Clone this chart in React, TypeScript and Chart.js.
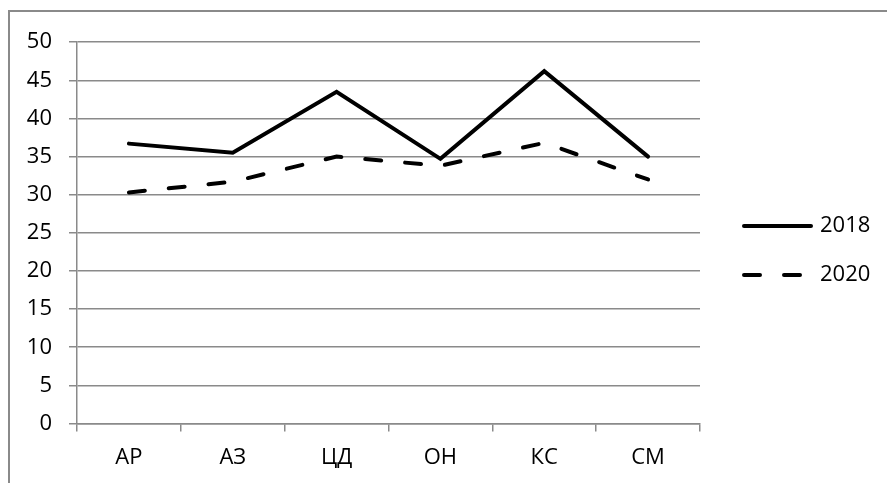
import React, { useEffect, useRef } from "react";
import { Chart, registerables } from "chart.js";

Chart.register(...registerables);

const categories = ["АР", "АЗ", "ЦД", "ОН", "КС", "СМ"];
const series2018 = [36.7, 35.5, 43.5, 34.7, 46.2, 35.0];
const series2020 = [30.3, 31.7, 35.0, 33.8, 36.8, 32.0];
const seriesLabels = ["2018", "2020"];
const yMin = 0;
const yMax = 50;
const yStep = 5;

const FONT = "'Open Sans', 'Liberation Sans', sans-serif";
const GRID = "#8a8a8a";

const legendPlugin = {
  id: "sideLegend",
  afterDraw(chart: any) {
    const ctx = chart.ctx;
    const area = chart.chartArea;
    const ds = chart.data.datasets;
    const spacing = 49;
    const startY = chart.height / 2 - ((ds.length - 1) * spacing) / 2 + 3;
    ctx.save();
    ds.forEach((d: any, i: number) => {
      const y = startY + i * spacing;
      const x0 = area.right + 44;
      const x1 = area.right + 111;
      ctx.beginPath();
      ctx.strokeStyle = d.borderColor;
      ctx.lineWidth = d.borderWidth;
      ctx.lineCap = "round";
      ctx.setLineDash(d.borderDash || []);
      ctx.moveTo(x0, y);
      ctx.lineTo(x1, y);
      ctx.stroke();
      ctx.setLineDash([]);
      ctx.fillStyle = "#000";
      ctx.font = `22px ${FONT}`;
      ctx.textAlign = "left";
      ctx.textBaseline = "middle";
      ctx.fillText(d.label, area.right + 120, y);
    });
    ctx.restore();
  },
};

export default function App() {
  const ref = useRef<HTMLCanvasElement | null>(null);

  useEffect(() => {
    if (!ref.current) return;
    const chart = new Chart(ref.current, {
      type: "line",
      data: {
        labels: categories,
        datasets: [
          {
            label: seriesLabels[0],
            data: series2018,
            borderColor: "#000",
            backgroundColor: "#000",
            borderWidth: 4,
            pointRadius: 0,
            tension: 0,
            borderCapStyle: "round",
            borderJoinStyle: "miter",
          },
          {
            label: seriesLabels[1],
            data: series2020,
            borderColor: "#000",
            backgroundColor: "#000",
            borderWidth: 4,
            borderDash: [16, 24],
            pointRadius: 0,
            tension: 0,
            borderCapStyle: "round",
            borderJoinStyle: "miter",
          },
        ],
      },
      options: {
        animation: false,
        responsive: false,
        devicePixelRatio: 1,
        layout: { padding: { left: 0, top: 28, right: 187, bottom: 0 } },
        plugins: {
          legend: { display: false },
          tooltip: { enabled: false },
        },
        scales: {
          x: {
            offset: true,
            grid: {
              display: true,
              offset: true,
              drawOnChartArea: false,
              drawTicks: true,
              tickLength: 8,
              color: GRID,
              lineWidth: 1.5,
            },
            border: { display: true, color: GRID, width: 1.5 },
            ticks: {
              color: "#000",
              font: { family: FONT, size: 22 },
              padding: 13,
              maxRotation: 0,
            },
            afterFit(scale: any) {
              scale.height = 59.5;
            },
          },
          y: {
            min: yMin,
            max: yMax,
            grid: {
              color: GRID,
              lineWidth: 1.5,
              drawTicks: true,
              tickLength: 8,
            },
            border: { display: true, color: GRID, width: 1.5 },
            ticks: {
              stepSize: yStep,
              color: "#000",
              font: { family: FONT, size: 22 },
              padding: 17,
            },
            afterFit(scale: any) {
              scale.width = 67;
            },
          },
        },
      },
      plugins: [legendPlugin],
    } as any);
    return () => chart.destroy();
  }, []);

  return (
    <div
      style={{
        position: "fixed",
        left: 8,
        top: 10,
        width: 879,
        height: 473,
        boxSizing: "border-box",
        borderLeft: `2px solid ${GRID}`,
        borderTop: `2px solid ${GRID}`,
        background: "#fff",
      }}
    >
      <canvas
        ref={ref}
        width={877}
        height={471}
        style={{ width: 877, height: 471, display: "block" }}
      />
    </div>
  );
}
